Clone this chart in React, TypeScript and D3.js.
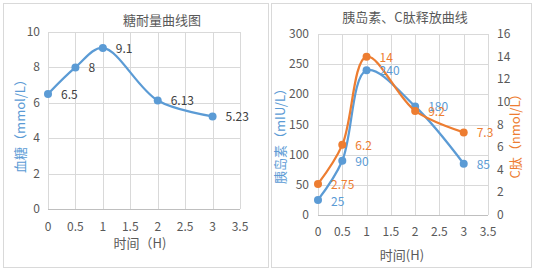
import React, { useRef, useEffect } from "react";
import * as d3 from "d3";

// 糖耐量
const times = [0, 0.5, 1, 2, 3];
const glucose = [6.5, 8, 9.1, 6.13, 5.23];
const glucoseTicks = [0, 2, 4, 6, 8, 10];
const xTicks = [0, 0.5, 1, 1.5, 2, 2.5, 3, 3.5];

// 胰岛素 / C肽
const insulin = [25, 90, 240, 180, 85];
const cPeptide = [2.75, 6.2, 14, 9.2, 7.3];
const insulinTicks = [0, 50, 100, 150, 200, 250, 300];
const cPeptideTicks = [0, 2, 4, 6, 8, 10, 12, 14, 16];

const BLUE = "#5B9BD5";
const ORANGE = "#ED7D31";
const TEXT = "#595959";
const GRID = "#d9d9d9";
const FONT = "'Noto Sans CJK SC', 'Noto Sans', sans-serif";

const App: React.FC = () => {
  const svgRef = useRef<SVGSVGElement | null>(null);

  useEffect(() => {
    const svg = d3.select(svgRef.current);
    svg.selectAll("*").remove();
    svg.append("rect").attr("width", 533).attr("height", 271).attr("fill", "#fff");

    // パネル枠
    const panel = (x0: number, x1: number) =>
      svg
        .append("rect")
        .attr("x", x0 + 0.5)
        .attr("y", 3.5)
        .attr("width", x1 - x0)
        .attr("height", 264)
        .attr("fill", "#fff")
        .attr("stroke", GRID);
    panel(3, 268);
    panel(271, 531);

    const line = d3.line<[number, number]>().curve(d3.curveCatmullRom.alpha(0.5));

    // ---------- 左：糖耐量曲线图 ----------
    {
      const x = d3.scaleLinear().domain([0, 3.5]).range([48, 240]);
      const y = d3.scaleLinear().domain([0, 10]).range([209, 32]);
      const g = svg.append("g").style("font-family", FONT);

      g.append("g")
        .selectAll("line")
        .data(glucoseTicks)
        .enter()
        .append("line")
        .attr("x1", x(0))
        .attr("x2", x(3.5))
        .attr("y1", (d) => Math.round(y(d)) + 0.5)
        .attr("y2", (d) => Math.round(y(d)) + 0.5)
        .attr("stroke", (d) => (d === 0 ? "#bfbfbf" : GRID));
      g.append("g")
        .selectAll("line")
        .data(xTicks)
        .enter()
        .append("line")
        .attr("x1", (d) => Math.round(x(d)) + 0.5)
        .attr("x2", (d) => Math.round(x(d)) + 0.5)
        .attr("y1", y(10))
        .attr("y2", y(0))
        .attr("stroke", GRID);

      g.append("g")
        .selectAll("text")
        .data(glucoseTicks)
        .enter()
        .append("text")
        .attr("x", 40)
        .attr("y", (d) => y(d) + 4)
        .attr("text-anchor", "end")
        .attr("fill", TEXT)
        .style("font-size", "12px")
        .text((d) => d);
      g.append("g")
        .selectAll("text")
        .data(xTicks)
        .enter()
        .append("text")
        .attr("x", (d) => x(d))
        .attr("y", 231)
        .attr("text-anchor", "middle")
        .attr("fill", TEXT)
        .style("font-size", "12px")
        .text((d) => d);

      g.append("text")
        .attr("x", 162)
        .attr("y", 25)
        .attr("text-anchor", "middle")
        .attr("fill", TEXT)
        .style("font-size", "13px")
        .text("糖耐量曲线图");
      g.append("text")
        .attr("x", 140)
        .attr("y", 248)
        .attr("text-anchor", "middle")
        .attr("fill", TEXT)
        .style("font-size", "13px")
        .text("时间（H)");
      g.append("text")
        .attr("transform", `translate(25,123) rotate(-90)`)
        .attr("text-anchor", "middle")
        .attr("fill", BLUE)
        .style("font-size", "13px")
        .text("血糖（mmol/L）");

      const pts = times.map((t, i) => [x(t), y(glucose[i])] as [number, number]);
      g.append("path")
        .attr("d", line(pts))
        .attr("fill", "none")
        .attr("stroke", BLUE)
        .attr("stroke-width", 2.25);
      g.append("g")
        .selectAll("circle")
        .data(pts)
        .enter()
        .append("circle")
        .attr("cx", (d) => d[0])
        .attr("cy", (d) => d[1])
        .attr("r", 4)
        .attr("fill", BLUE);
      g.append("g")
        .selectAll("text")
        .data(glucose)
        .enter()
        .append("text")
        .attr("x", (d, i) => x(times[i]) + 13)
        .attr("y", (d) => y(d) + 5)
        .attr("fill", "#404040")
        .style("font-size", "12px")
        .text((d) => d);
    }

    // ---------- 右：胰岛素、C肽释放曲线 ----------
    {
      const x = d3.scaleLinear().domain([0, 3.5]).range([318, 488]);
      const yL = d3.scaleLinear().domain([0, 300]).range([215, 34]);
      const yR = d3.scaleLinear().domain([0, 16]).range([215, 34]);
      const g = svg.append("g").style("font-family", FONT);

      g.append("g")
        .selectAll("line")
        .data(insulinTicks)
        .enter()
        .append("line")
        .attr("x1", x(0))
        .attr("x2", x(3.5))
        .attr("y1", (d) => Math.round(yL(d)) + 0.5)
        .attr("y2", (d) => Math.round(yL(d)) + 0.5)
        .attr("stroke", (d) => (d === 0 ? "#bfbfbf" : GRID));
      g.append("g")
        .selectAll("line")
        .data(xTicks)
        .enter()
        .append("line")
        .attr("x1", (d) => Math.round(x(d)) + 0.5)
        .attr("x2", (d) => Math.round(x(d)) + 0.5)
        .attr("y1", yL(300))
        .attr("y2", yL(0))
        .attr("stroke", GRID);

      g.append("g")
        .selectAll("text")
        .data(insulinTicks)
        .enter()
        .append("text")
        .attr("x", 309)
        .attr("y", (d) => yL(d) + 4)
        .attr("text-anchor", "end")
        .attr("fill", TEXT)
        .style("font-size", "12px")
        .text((d) => d);
      g.append("g")
        .selectAll("text")
        .data(cPeptideTicks)
        .enter()
        .append("text")
        .attr("x", 497)
        .attr("y", (d) => yR(d) + 4)
        .attr("text-anchor", "start")
        .attr("fill", TEXT)
        .style("font-size", "12px")
        .text((d) => d);
      g.append("g")
        .selectAll("text")
        .data(xTicks)
        .enter()
        .append("text")
        .attr("x", (d) => x(d))
        .attr("y", 236)
        .attr("text-anchor", "middle")
        .attr("fill", TEXT)
        .style("font-size", "12px")
        .text((d) => d);

      g.append("text")
        .attr("x", 405)
        .attr("y", 22)
        .attr("text-anchor", "middle")
        .attr("fill", TEXT)
        .style("font-size", "13px")
        .text("胰岛素、C肽释放曲线");
      g.append("text")
        .attr("x", 402)
        .attr("y", 260)
        .attr("text-anchor", "middle")
        .attr("fill", TEXT)
        .style("font-size", "13px")
        .text("时间(H)");
      g.append("text")
        .attr("transform", `translate(285,133) rotate(-90)`)
        .attr("text-anchor", "middle")
        .attr("fill", BLUE)
        .style("font-size", "13px")
        .text("胰岛素（mIU/L）");
      g.append("text")
        .attr("transform", `translate(520,133) rotate(-90)`)
        .attr("text-anchor", "middle")
        .attr("fill", ORANGE)
        .style("font-size", "13px")
        .text("C肽（nmol/L）");

      const series = [
        { values: insulin, y: yL, color: BLUE, dy: [6, 5, 5, 5, 5] },
        { values: cPeptide, y: yR, color: ORANGE, dy: [5, 5, 5, 5, 5] },
      ];
      series.forEach((s) => {
        const pts = times.map((t, i) => [x(t), s.y(s.values[i])] as [number, number]);
        g.append("path")
          .attr("d", line(pts))
          .attr("fill", "none")
          .attr("stroke", s.color)
          .attr("stroke-width", 2.25);
        g.append("g")
          .selectAll("circle")
          .data(pts)
          .enter()
          .append("circle")
          .attr("cx", (d) => d[0])
          .attr("cy", (d) => d[1])
          .attr("r", 4)
          .attr("fill", s.color);
      });
      series.forEach((s) => {
        g.append("g")
          .selectAll("text")
          .data(s.values)
          .enter()
          .append("text")
          .attr("x", (d, i) => x(times[i]) + 13)
          .attr("y", (d, i) => s.y(d) + s.dy[i])
          .attr("fill", s.color)
          .style("font-size", "12px")
          .text((d) => d);
      });
    }
  }, []);

  return (
    <svg
      ref={svgRef}
      width={533}
      height={271}
      style={{ position: "absolute", left: 0, top: 0, display: "block" }}
    ></svg>
  );
};

export default App;
